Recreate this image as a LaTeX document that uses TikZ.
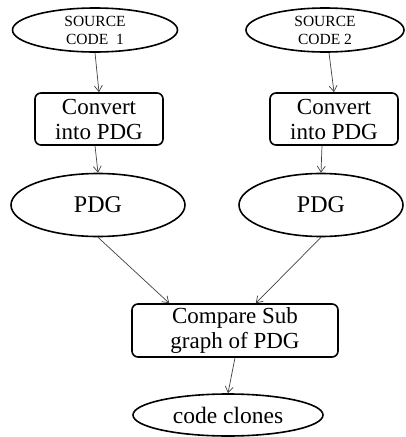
\documentclass[tikz,border=0pt]{standalone}
\usepackage{fontspec}
\setmainfont{Liberation Serif}
\usetikzlibrary{shapes.geometric,arrows.meta}
\begin{document}
\begin{tikzpicture}[x=1pt,y=-1pt,
  oval/.style={draw=black,line width=1.6pt,ellipse,inner sep=0pt,align=center},
  proc/.style={draw=black,line width=1.6pt,rounded corners=6pt,inner sep=0pt,align=center,
    font=\fontsize{23}{25}\selectfont},
  conn/.style={draw=black!75,line width=0.7pt,-{Straight Barb[length=6pt,width=8pt]}}]
\useasboundingbox (0,0) rectangle (405,437);
\node[oval,minimum width=165pt,minimum height=44pt,font=\fontsize{15.5}{18}\selectfont] (s1) at (95,30) {SOURCE\\CODE~~1};
\node[oval,minimum width=158pt,minimum height=44pt,font=\fontsize{15.5}{18}\selectfont] (s2) at (325,30) {SOURCE\\CODE 2};
\node[proc,minimum width=128pt,minimum height=52pt] (c1) at (99,119) {Convert\\into PDG};
\node[proc,minimum width=128pt,minimum height=52pt] (c2) at (334,119) {Convert\\into PDG};
\node[oval,minimum width=174pt,minimum height=63pt,font=\fontsize{24}{25}\selectfont] (p1) at (98,205) {PDG};
\node[oval,minimum width=164pt,minimum height=63pt,font=\fontsize{24}{25}\selectfont] (p2) at (321,205) {PDG};
\node[proc,minimum width=206pt,minimum height=53pt] (cmp) at (235,330.5) {Compare Sub\\graph of PDG};
\node[oval,minimum width=190pt,minimum height=42pt,font=\fontsize{23.5}{25}\selectfont] (cc) at (228,415) {code clones};
\draw[conn] (s1.south) -- (c1.north);
\draw[conn] ([xshift=4pt]s2.south) -- (c2.north);
\draw[conn] ([xshift=-4pt]c1.south) -- (p1.north);
\draw[conn] ([xshift=-12pt]c2.south) -- (p2.north);
\draw[conn] (p1.south) -- ([xshift=38pt]cmp.north west);
\draw[conn] (p2.south) -- ([xshift=-83pt]cmp.north east);
\draw[conn] (cmp.south) -- (cc.north);
\end{tikzpicture}
\end{document}
